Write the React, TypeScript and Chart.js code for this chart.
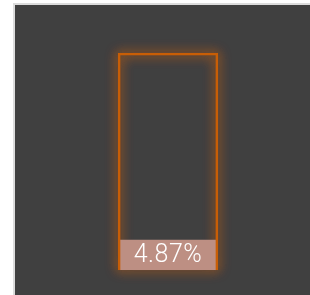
import React, { useEffect, useRef } from "react";
import { Chart, registerables } from "chart.js";

Chart.register(...registerables);

const categories = ["Progress"];
const maxValues = [100];
const values = [4.87];
const labelSuffix = "%";

const glowPlugin = {
  id: "glow",
  beforeDatasetsDraw(chart: any) {
    const meta = chart.getDatasetMeta(0);
    const ctx = chart.ctx;
    meta.data.forEach((el: any) => {
      const { x, y, base, width } = el.getProps(["x", "y", "base", "width"], true);
      const left = x - width / 2;
      const top = Math.min(y, base);
      const h = Math.abs(base - y);
      ctx.save();
      ctx.strokeStyle = "rgba(210,95,0,0.9)";
      ctx.lineWidth = 2;
      ctx.shadowColor = "rgba(235,105,0,0.9)";
      ctx.shadowBlur = 12;
      for (let k = 0; k < 2; k++) {
        ctx.strokeRect(left + 1, top + 1, width - 2, h - 2);
      }
      ctx.restore();
    });
  },
};

const labelPlugin = {
  id: "valueLabel",
  afterDatasetsDraw(chart: any) {
    const meta = chart.getDatasetMeta(1);
    const ctx = chart.ctx;
    meta.data.forEach((el: any, i: number) => {
      const v = values[i];
      const cy = (el.y + el.base) / 2;
      ctx.save();
      ctx.fillStyle = "#ffffff";
      ctx.font = "300 25px Roboto";
      (ctx as any).letterSpacing = "0.5px";
      ctx.textAlign = "center";
      ctx.textBaseline = "middle";
      ctx.fillText(v.toFixed(2) + labelSuffix, el.x, cy + 1);
      ctx.restore();
    });
  },
};

export default function App() {
  const ref = useRef<HTMLCanvasElement | null>(null);
  useEffect(() => {
    if (!ref.current) return;
    const chart = new Chart(ref.current, {
      type: "bar",
      data: {
        labels: categories,
        datasets: [
          {
            data: maxValues,
            backgroundColor: "rgba(0,0,0,0)",
            borderColor: "#c85e06",
            borderWidth: 2,
            grouped: false,
            order: 0,
            barPercentage: 1,
            categoryPercentage: 1,
          } as any,
          {
            data: values,
            backgroundColor: "#bd8f83",
            borderWidth: 0,
            grouped: false,
            order: 1,
            minBarLength: 30,
            barPercentage: 1,
            categoryPercentage: 1,
          } as any,
        ],
      },
      options: {
        responsive: false,
        devicePixelRatio: 1,
        animation: false,
        layout: { padding: { left: 118, right: 92, top: 53, bottom: 25 } },
        scales: {
          x: { display: false },
          y: { display: false, min: 0, max: 100 },
        },
        plugins: {
          legend: { display: false },
          tooltip: { enabled: false },
        },
      },
      plugins: [glowPlugin, labelPlugin],
    });
    return () => chart.destroy();
  }, []);

  return (
    <div style={{ position: "absolute", left: 0, top: 0, width: 310, height: 295, overflow: "hidden" }}>
      <div
        style={{
          position: "absolute",
          left: 13,
          top: 3,
          width: 295,
          height: 290,
          background: "#404040",
          borderLeft: "2px solid #dcdcdc",
          borderTop: "2px solid #dcdcdc",
        }}
      />
      <canvas
        ref={ref}
        width={310}
        height={295}
        style={{ position: "absolute", left: 0, top: 0, width: 310, height: 295 }}
      />
    </div>
  );
}
